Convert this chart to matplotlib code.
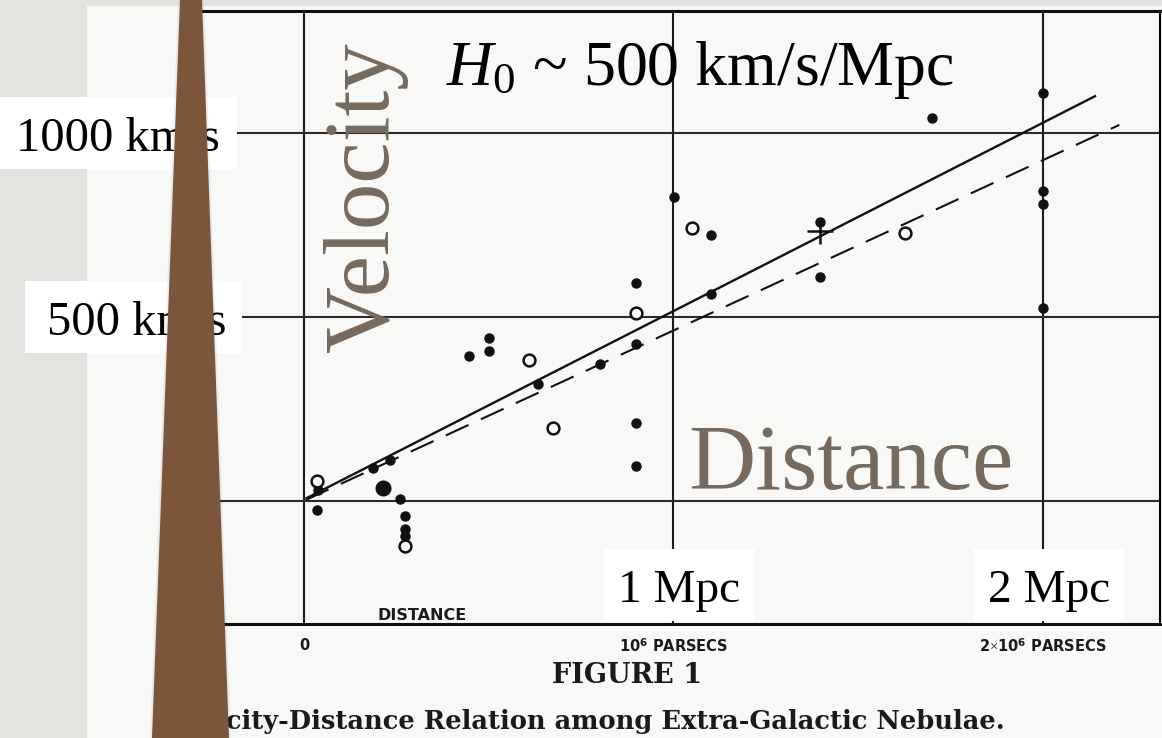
import matplotlib
matplotlib.use("Agg")
import matplotlib.pyplot as plt
from matplotlib.patches import Rectangle, Polygon

# ---------------- data (distance in Mpc, velocity in km/s) ----------------
filled_d = [0.038, 0.036, 0.260, 0.273, 0.273, 0.273, 0.187, 0.233, 0.447, 0.501,
            0.501, 0.634, 0.801, 0.900, 0.900, 0.900, 0.900, 1.001, 1.101, 1.101,
            1.398, 1.398, 1.699, 2.001, 2.001, 2.001, 2.001]
filled_v = [30, -23, 5, -40, -76, -95, 90, 111, 395, 442,
            408, 318, 372, 593, 428, 211, 95, 827, 723, 562,
            757, 610, 1040, 1110, 842, 807, 524]
big_d = [0.213]
big_v = [36]
open_d = [0.036, 0.273, 0.610, 0.673, 0.900, 1.049, 1.627]
open_v = [54, -122, 383, 198, 512, 741, 727]
plus_d = [1.398]
plus_v = [734]
solid_d = [0.007, 2.141]
solid_v = [8, 1100]
dashed_d = [0.005, 2.207]
dashed_v = [3, 1022]

grid_d = [0, 1, 2]
grid_v = [0, 500, 1000]
hubble_ticks = [0, 1, 2]
hubble_tick_labels = ["0", r"10$^{\mathbf{6}}$ PARSECS", r"2$\times$10$^{\mathbf{6}}$ PARSECS"]
vel_marks = [1000, 500]
vel_labels = ["1000 km/s", "500 km/s"]
dist_marks = [1, 2]
dist_labels = ["1 Mpc", "2 Mpc"]
title_text = r"$H_0$ ~ 500 km/s/Mpc"
caption = "Velocity-Distance Relation among Extra-Galactic Nebulae."

plt.rcParams["mathtext.fontset"] = "custom"
plt.rcParams["mathtext.rm"] = "Liberation Serif"
plt.rcParams["mathtext.it"] = "Liberation Serif:italic"
plt.rcParams["mathtext.bf"] = "DejaVu Sans:bold"

W, H = 1162, 738
fig = plt.figure(figsize=(W / 100, H / 100), dpi=100)
fig.patch.set_facecolor("#e3e3df")


def px_axes(z):
    a = fig.add_axes([0, 0, 1, 1], zorder=z)
    a.set_xlim(0, W)
    a.set_ylim(H, 0)
    a.axis("off")
    a.patch.set_alpha(0)
    return a


bg = px_axes(0)
bg.add_patch(Rectangle((87, 6), W - 87, H - 6, facecolor="#f8f8f7", edgecolor="none"))

# ---------------- Hubble's plot ----------------
ax_left = 192
ax = fig.add_axes([ax_left / W, (H - 624) / H, (1160 - ax_left) / W, (624 - 11) / H], zorder=1)
ax.patch.set_alpha(0)
ax.set_xlim((ax_left - 304) / 369.5, 2.317)
ax.set_ylim(-334, 1331.5)
for g in grid_d:
    ax.axvline(g, color="#1a1a1a", lw=1.5, zorder=1)
for g in grid_v:
    ax.axhline(g, color="#2a2a2a", lw=1.5, zorder=1)
for s in ["top", "bottom"]:
    ax.spines[s].set_linewidth(2.2)
    ax.spines[s].set_color("#111111")
ax.spines["right"].set_linewidth(1.5)
ax.spines["left"].set_visible(False)
ax.set_yticks([])
ax.set_xticks(hubble_ticks)
ax.set_xticklabels(hubble_tick_labels, fontsize=10.5, fontweight="bold",
                   family="DejaVu Sans", color="#1a1a1a")
ax.tick_params(axis="x", length=0, pad=10)

ax.plot(solid_d, solid_v, color="#111111", lw=1.7, zorder=3)
ax.plot(dashed_d, dashed_v, color="#111111", lw=1.5, linestyle=(0, (12, 6.5)), zorder=3)
ax.plot(filled_d, filled_v, "o", color="#111111", ms=6.5, zorder=4)
ax.plot(big_d, big_v, "o", color="#111111", ms=10.5, zorder=4)
ax.plot(open_d, open_v, "o", mfc="#f8f8f7", mec="#111111", mew=1.8, ms=8.5, zorder=4)
ax.plot(plus_d, plus_v, "+", color="#111111", ms=19, mew=1.8, zorder=4)
ax.text(0.32, -330, "DISTANCE", fontsize=11.5, fontweight="bold", family="DejaVu Sans",
        ha="center", va="bottom", color="#1a1a1a")

# ---------------- overlays ----------------
top = px_axes(2)


def ypx(v):
    return H - ax.transData.transform((0, v))[1]


def xpx(d):
    return ax.transData.transform((d, 0))[0]


top.text(627, 683, "FIGURE 1", fontsize=19.5, fontweight="bold", family="DejaVu Serif",
         ha="center", va="baseline", color="#1a1a1a")
top.text(1005, 729, caption, fontsize=18.5, fontweight="bold", family="DejaVu Serif",
         ha="right", va="baseline", color="#1a1a1a")

serif = "Liberation Serif"
box_x = [(0, 237), (25, 242)]
text_x = [16, 47]
for v, lab, (x0, x1), tx in zip(vel_marks, vel_labels, box_x, text_x):
    yc = ypx(v)
    top.add_patch(Rectangle((x0, yc - 36), x1 - x0, 72, facecolor="white", edgecolor="none"))
    top.text(tx, yc + 18, lab, family=serif, fontsize=35,
             ha="left", va="baseline", color="black")

for d, lab in zip(dist_marks, dist_labels):
    xc = xpx(d) + 6
    top.add_patch(Rectangle((xc - 75, 549), 150, 72, facecolor="white", edgecolor="none"))
    top.text(xc, 602, lab, family=serif, fontsize=34, ha="center", va="baseline", color="black")

brown_grey = "#756a5d"
top.text(388, 352, "Velocity", family=serif, fontsize=67, rotation=90,
         rotation_mode="anchor", ha="left", va="baseline", color=brown_grey)
top.text(688, 489, "Distance", family=serif, fontsize=67, ha="left", va="baseline",
         color=brown_grey)
top.text(446, 85, title_text, family=serif, fontsize=46, ha="left", va="baseline", color="black")

# pole with faint shadow
top.add_patch(Polygon([(178, 0), (204, 0), (231, H), (150, H)], closed=True,
                      facecolor="black", alpha=0.06, edgecolor="none", zorder=5))
top.add_patch(Polygon([(180, 0), (202, 0), (229, H), (152, H)], closed=True,
                      facecolor="#7b563b", edgecolor="none", zorder=6))

fig.savefig("out.png", dpi=100, facecolor=fig.get_facecolor())
